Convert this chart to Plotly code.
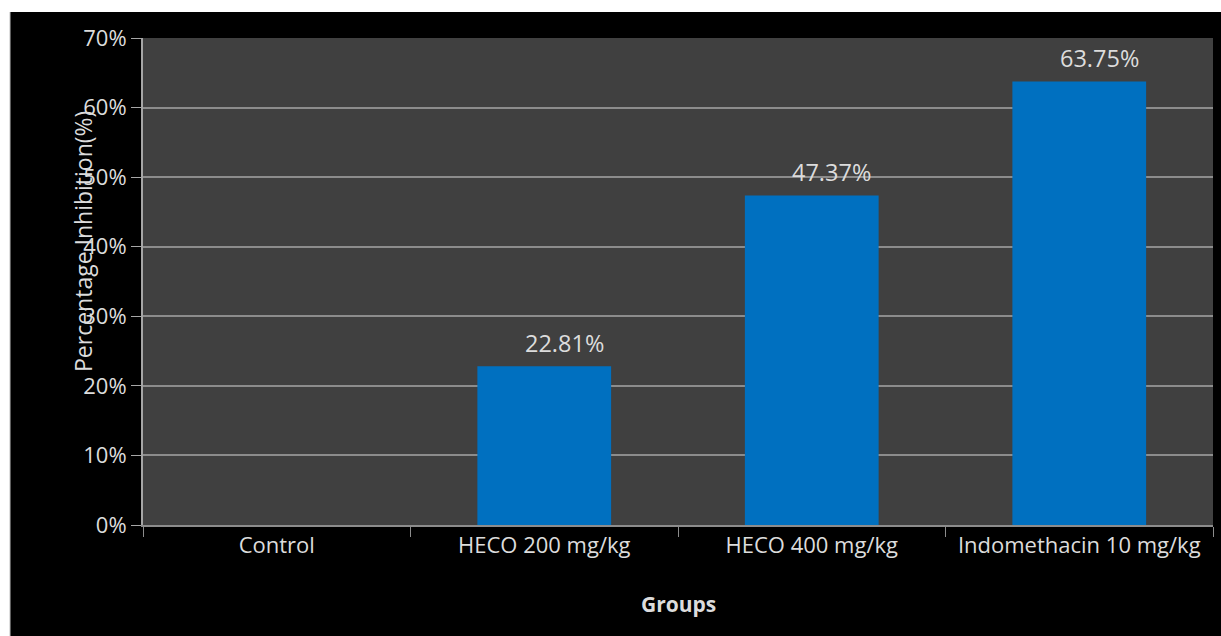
import plotly.graph_objects as go

groups = ["Control", "HECO 200 mg/kg", "HECO 400 mg/kg", "Indomethacin 10 mg/kg"]
inhibition = [0.0, 22.81, 47.37, 63.75]
label_text = ["", "22.81%", "47.37%", "63.75%"]
y_ticks = [0, 10, 20, 30, 40, 50, 60, 70]
y_tick_text = ["0%", "10%", "20%", "30%", "40%", "50%", "60%", "70%"]

W, H = 1221, 636
L, R, T, B = 143, 8, 38, 111
pw, ph = W - L - R, H - T - B

font_family = "Open Sans, Noto Sans, sans-serif"
txt_color = "#dcdcdc"

fig = go.Figure()
fig.add_trace(go.Bar(
    x=groups, y=inhibition, marker=dict(color="#0070C0", line=dict(width=0)),
    width=0.5, hoverinfo="x+y",
))

for g, v, t in zip(groups, inhibition, label_text):
    if t:
        fig.add_annotation(x=g, y=v, text=t, showarrow=False, yanchor="bottom",
                           yshift=5, xshift=20,
                           font=dict(family=font_family, size=23.5, color=txt_color))

fig.add_annotation(xref="paper", yref="paper", x=0, y=(525 - 242) / ph, xshift=-60,
                   xanchor="center", yanchor="middle",
                   text="Percentage Inhibition(%)", textangle=-90, showarrow=False,
                   font=dict(family=font_family, size=23, color=txt_color))
fig.add_annotation(xref="paper", yref="paper", x=0.5, y=(525 - 604) / ph,
                   text="<b>Groups</b>", showarrow=False, yanchor="middle",
                   font=dict(family=font_family, size=21, color=txt_color))

# white margins outside the black chart area
fig.add_shape(type="rect", xref="paper", yref="paper",
              x0=-L / pw - 0.01, x1=(10 - L) / pw, y0=-B / ph - 0.01, y1=(H - T) / ph + 0.01,
              fillcolor="white", line=dict(width=0), layer="above")
fig.add_shape(type="rect", xref="paper", yref="paper",
              x0=-L / pw - 0.01, x1=1 + R / pw + 0.01, y0=(525 - 12) / ph, y1=(525) / ph + T / ph + 0.01,
              fillcolor="white", line=dict(width=0), layer="above")
fig.add_shape(type="line", xref="paper", yref="paper",
              x0=(10 - L) / pw, x1=(10 - L) / pw, y0=-B / ph - 0.01, y1=(525 - 12) / ph,
              line=dict(color="#bfbfbf", width=1), layer="above")

fig.update_layout(
    width=W, height=H,
    margin=dict(l=L, r=R, t=T, b=B),
    paper_bgcolor="black", plot_bgcolor="#404040",
    showlegend=False,
    font=dict(family=font_family, color=txt_color, size=22),
    xaxis=dict(
        type="category", showgrid=False, ticks="outside", tickson="boundaries",
        ticklen=10, tickcolor="#8c8c8c", showline=True, linecolor="#8c8c8c", linewidth=2,
        tickfont=dict(size=22, color=txt_color),
    ),
    yaxis=dict(
        range=[0, 70], tickvals=y_ticks, ticktext=y_tick_text,
        showgrid=True, gridcolor="#8c8c8c", gridwidth=2,
        ticks="outside", ticklen=10, tickcolor="#a6a6a6",
        showline=True, linecolor="#a6a6a6", linewidth=2, zeroline=False,
        tickfont=dict(size=22, color=txt_color),
    ),
    bargap=0.5,
)

fig.write_html("out.html", config={"displayModeBar": False},
               post_script="document.body.style.margin='0';document.body.style.padding='0';")
